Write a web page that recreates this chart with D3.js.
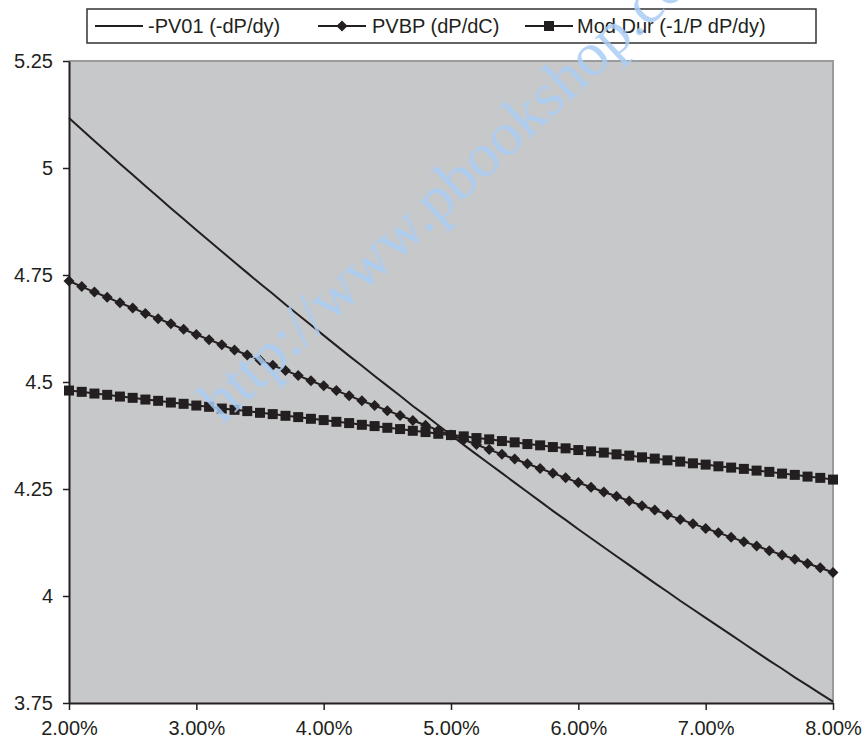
<!DOCTYPE html>
<html>
<head>
<meta charset="utf-8">
<script src="https://cdn.jsdelivr.net/npm/d3@7"></script>
<style>
  html, body { margin: 0; padding: 0; background: #ffffff; }
  svg { display: block; }
  text { font-family: "Liberation Sans", Arial, sans-serif; }
</style>
</head>
<body>
<svg id="chart" width="868" height="739"></svg>
<script>
// ---- Data ----
const yields = [2.0,2.1,2.2,2.3,2.4,2.5,2.6,2.7,2.8,2.9,
  3.0,3.1,3.2,3.3,3.4,3.5,3.6,3.7,3.8,3.9,
  4.0,4.1,4.2,4.3,4.4,4.5,4.6,4.7,4.8,4.9,
  5.0,5.1,5.2,5.3,5.4,5.5,5.6,5.7,5.8,5.9,
  6.0,6.1,6.2,6.3,6.4,6.5,6.6,6.7,6.8,6.9,
  7.0,7.1,7.2,7.3,7.4,7.5,7.6,7.7,7.8,7.9,
  8.0];

const pv01 = [5.117,5.090,5.063,5.037,5.010,4.984,4.958,4.932,4.906,4.881,
  4.855,4.830,4.805,4.780,4.755,4.730,4.706,4.681,4.657,4.633,
  4.609,4.585,4.561,4.538,4.514,4.491,4.468,4.444,4.422,4.399,
  4.376,4.353,4.331,4.309,4.287,4.265,4.243,4.221,4.199,4.178,
  4.156,4.135,4.114,4.093,4.072,4.051,4.030,4.010,3.989,3.969,
  3.949,3.929,3.909,3.889,3.869,3.849,3.830,3.810,3.791,3.772,
  3.753];

const pvbp = [4.736,4.723,4.710,4.698,4.685,4.673,4.660,4.648,4.636,4.623,
  4.611,4.599,4.587,4.575,4.563,4.551,4.539,4.527,4.515,4.503,
  4.491,4.480,4.468,4.456,4.445,4.433,4.422,4.410,4.399,4.387,
  4.376,4.365,4.354,4.342,4.331,4.320,4.309,4.298,4.287,4.276,
  4.265,4.254,4.243,4.233,4.222,4.211,4.201,4.190,4.179,4.169,
  4.158,4.148,4.137,4.127,4.117,4.106,4.096,4.086,4.076,4.066,
  4.055];

const modDur = [4.480,4.477,4.473,4.470,4.466,4.463,4.459,4.456,4.452,4.449,
  4.445,4.442,4.438,4.435,4.432,4.428,4.425,4.421,4.418,4.414,
  4.411,4.407,4.404,4.400,4.397,4.393,4.390,4.386,4.383,4.379,
  4.376,4.373,4.369,4.366,4.362,4.359,4.355,4.352,4.348,4.345,
  4.341,4.338,4.335,4.331,4.328,4.324,4.321,4.317,4.314,4.310,
  4.307,4.303,4.300,4.297,4.293,4.290,4.286,4.283,4.279,4.276,
  4.272];

const seriesNames = ["-PV01 (-dP/dy)", "PVBP (dP/dC)", "Mod Dur (-1/P dP/dy)"];
const xTicks = [2, 3, 4, 5, 6, 7, 8];
const xTickLabels = ["2.00%", "3.00%", "4.00%", "5.00%", "6.00%", "7.00%", "8.00%"];
const yTicks = [3.75, 4, 4.25, 4.5, 4.75, 5, 5.25];
const yTickLabels = ["3.75", "4", "4.25", "4.5", "4.75", "5", "5.25"];
const watermark = "http://www.pbookshop.com";

// ---- Layout ----
const L = 69, R = 833, T = 61, B = 703;
const ink = "#231f20";
const fontSize = 20;

const svg = d3.select("#chart");
const x = d3.scaleLinear().domain([2, 8]).range([L, R]);
const y = d3.scaleLinear().domain([3.75, 5.25]).range([B, T]);

// plot area
svg.append("rect").attr("x", L).attr("y", T).attr("width", R - L).attr("height", B - T)
  .attr("fill", "#c7c8ca");
// top & right frame (gray)
svg.append("path")
  .attr("d", `M${L},${T}H${R}V${B}`)
  .attr("fill", "none").attr("stroke", "#9a9b9d").attr("stroke-width", 2);

// axes
const xAxis = d3.axisBottom(x).tickValues(xTicks)
  .tickFormat((d, i) => xTickLabels[i]).tickSize(7).tickSizeOuter(0);
const yAxis = d3.axisLeft(y).tickValues(yTicks)
  .tickFormat((d, i) => yTickLabels[i]).tickSize(6).tickSizeOuter(0);

const gx = svg.append("g").attr("transform", `translate(0,${B})`).call(xAxis);
const gy = svg.append("g").attr("transform", `translate(${L},0)`).call(yAxis);
[gx, gy].forEach(g => {
  g.select(".domain").attr("stroke", ink).attr("stroke-width", 2);
  g.selectAll(".tick line").attr("stroke", ink).attr("stroke-width", 1.5);
  g.selectAll(".tick text").attr("fill", ink)
    .style("font-family", "'Liberation Sans', Arial, sans-serif")
    .style("font-size", fontSize + "px");
});
gx.selectAll(".tick text").attr("dy", "0.71em").attr("y", 18);
gy.selectAll(".tick text").attr("x", -16);

// lines
const line = d3.line().x((d, i) => x(yields[i])).y(d => y(d));
const plot = svg.append("g");
[pv01, pvbp, modDur].forEach(s => {
  plot.append("path").datum(s).attr("d", line)
    .attr("fill", "none").attr("stroke", ink).attr("stroke-width", 2);
});

// markers
function diamondPath(cx, cy, w, h) {
  return `M${cx},${cy - h}L${cx + w},${cy}L${cx},${cy + h}L${cx - w},${cy}Z`;
}
plot.append("g").selectAll("path").data(pvbp).join("path")
  .attr("d", (d, i) => diamondPath(x(yields[i]), y(d), 5.5, 5.5))
  .attr("fill", ink);
plot.append("g").selectAll("rect").data(modDur).join("rect")
  .attr("x", (d, i) => x(yields[i]) - 5).attr("y", d => y(d) - 5)
  .attr("width", 10).attr("height", 10).attr("fill", ink);

// legend
const leg = svg.append("g");
leg.append("rect").attr("x", 87).attr("y", 9).attr("width", 729).attr("height", 34)
  .attr("fill", "#ffffff").attr("stroke", "#333333").attr("stroke-width", 1.5);
const legItems = [
  { lx0: 95, lx1: 143, tx: 148, marker: "none" },
  { lx0: 318, lx1: 366, tx: 372, marker: "diamond" },
  { lx0: 525, lx1: 573, tx: 577, marker: "square" }
];
const ly = 26;
legItems.forEach((it, i) => {
  leg.append("line").attr("x1", it.lx0).attr("x2", it.lx1).attr("y1", ly).attr("y2", ly)
    .attr("stroke", ink).attr("stroke-width", 2);
  const cx = (it.lx0 + it.lx1) / 2;
  if (it.marker === "diamond") {
    leg.append("path").attr("d", diamondPath(cx, ly, 5.5, 5.5)).attr("fill", ink);
  } else if (it.marker === "square") {
    leg.append("rect").attr("x", cx - 5).attr("y", ly - 5).attr("width", 10).attr("height", 10).attr("fill", ink);
  }
  leg.append("text").attr("x", it.tx).attr("y", ly).attr("dy", "0.35em")
    .attr("fill", ink).style("font-size", fontSize + "px").text(seriesNames[i]);
});

// watermark
svg.append("text")
  .attr("transform", "translate(222,425) rotate(-43)")
  .style("font-family", "'Liberation Serif', 'DejaVu Serif', serif")
  .style("font-size", "62px")
  .attr("fill", "#a9cdf5").attr("fill-opacity", 0.85)
  .text(watermark);
</script>
</body>
</html>
